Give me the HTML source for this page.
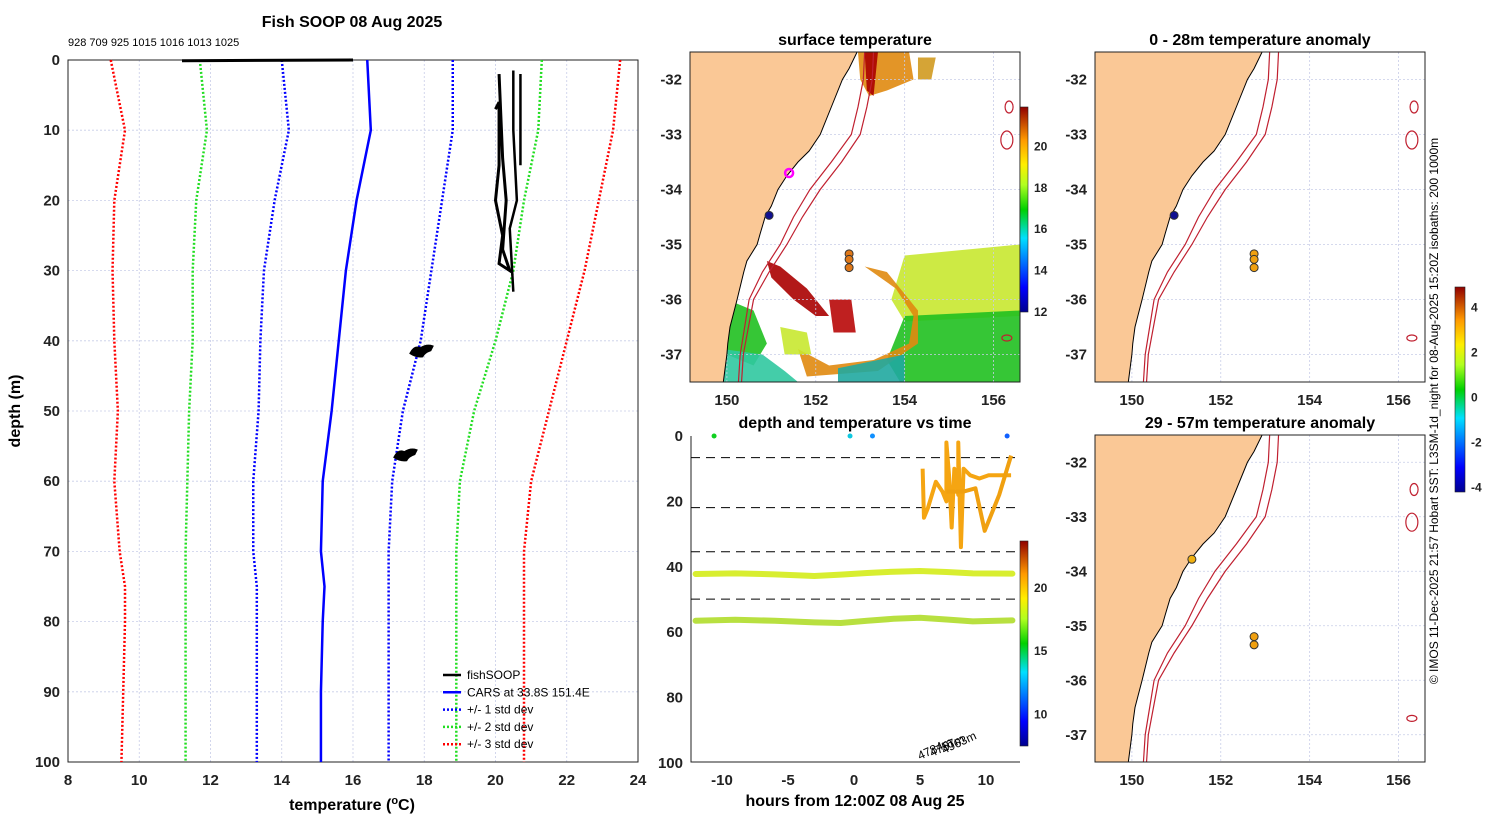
<!DOCTYPE html>
<html><head><meta charset="utf-8">
<style>
html,body{margin:0;padding:0;background:#fff;}
svg{display:block;font-family:"Liberation Sans","DejaVu Sans",sans-serif;}
.tk{font-size:15px;font-weight:bold;fill:#222;}
.tt{font-size:16px;font-weight:bold;fill:#000;}
</style></head>
<body>
<svg id="fig" width="1500" height="820" viewBox="0 0 1500 820">
<defs>
<linearGradient id="jet" x1="0" y1="1" x2="0" y2="0">
<stop offset="0" stop-color="#00008f"/><stop offset="0.12" stop-color="#0000ff"/><stop offset="0.36" stop-color="#00e0ff"/><stop offset="0.5" stop-color="#00d000"/><stop offset="0.62" stop-color="#b0ff20"/><stop offset="0.72" stop-color="#ffee00"/><stop offset="0.84" stop-color="#ff9900"/><stop offset="1" stop-color="#900000"/>
</linearGradient>
<clipPath id="c1"><rect x="690" y="52" width="330" height="330"/></clipPath>
<clipPath id="c2"><rect x="1095" y="52" width="330" height="330"/></clipPath>
<clipPath id="c3"><rect x="1095" y="435" width="330" height="327"/></clipPath>
</defs>
<text x="352" y="27" text-anchor="middle" class="tt">Fish SOOP 08 Aug 2025</text>
<text x="68" y="46" font-size="11" fill="#000">928 709 925 1015 1016 1013 1025</text>
<text x="855" y="45" text-anchor="middle" class="tt">surface temperature</text>
<text x="1260" y="45" text-anchor="middle" class="tt">0 - 28m temperature anomaly</text>
<text x="855" y="428" text-anchor="middle" class="tt">depth and temperature vs time</text>
<text x="1260" y="428" text-anchor="middle" class="tt">29 - 57m temperature anomaly</text>
<text x="352" y="810" text-anchor="middle" class="tt">temperature (<tspan font-size="11" dy="-6">o</tspan><tspan dy="6">C)</tspan></text>
<text transform="translate(20,411) rotate(-90)" text-anchor="middle" class="tt">depth (m)</text>
<text x="855" y="806" text-anchor="middle" class="tt">hours from 12:00Z 08 Aug 25</text>
<text transform="translate(1438,411) rotate(-90)" text-anchor="middle" font-size="12" fill="#000">© IMOS 11-Dec-2025 21:57 Hobart SST: L3SM-1d_night for 08-Aug-2025 15:20Z isobaths: 200  1000m</text>
<g id="g"></g>
</svg>
<script>
// ---------- left profile data ----------
const depths=[0,10,20,30,40,50,60,70,75,80,90,100];
const cars=[16.4,16.5,16.1,15.8,15.6,15.4,15.15,15.1,15.2,15.15,15.1,15.1];
const sd1lo=[14.0,14.2,13.8,13.5,13.4,13.35,13.2,13.2,13.3,13.3,13.3,13.3];
const sd1hi=[18.8,18.8,18.5,18.2,17.9,17.4,17.1,17.0,17.0,17.0,17.0,17.0];
const sd2lo=[11.7,11.9,11.6,11.5,11.5,11.4,11.35,11.3,11.3,11.3,11.3,11.3];
const sd2hi=[21.3,21.2,20.8,20.5,20.0,19.4,19.0,18.9,18.9,18.9,18.9,18.9];
const sd3lo=[9.2,9.6,9.3,9.25,9.3,9.4,9.3,9.45,9.6,9.6,9.55,9.5];
const sd3hi=[23.5,23.3,22.9,22.5,22.0,21.5,21.0,20.8,20.8,20.8,20.8,20.8];
const tempTicks=[8,10,12,14,16,18,20,22,24];
const depthTicks=[0,10,20,30,40,50,60,70,80,90,100];
const fishA=[[20.0,7],[20.1,6],[20.1,15],[20.0,20],[20.2,25],[20.1,29],[20.4,30],[20.2,27],[20.3,20],[20.2,14],[20.1,2]];
const fishB=[[20.5,1.5],[20.5,10],[20.6,20],[20.4,24],[20.5,33]];
const fishC=[[20.7,2],[20.7,15]];
const fishSurf=[[11.2,0.1],[16.0,0]];
const blob1=[17.95,41.5];
const blob2=[17.5,56.3];
// ---------- time panel data ----------
const hourTicks=[-10,-5,0,5,10];
const depthTicks2=[0,20,40,60,80,100];
const dashDepths=[6.6,21.9,35.4,49.9];
const band1h=[-12,-9,-6,-3,-1,1,3,5,7,9,12];
const band1d=[42.2,42.0,42.3,42.8,42.4,41.9,41.5,41.3,41.6,42.0,42.1];
const band2d=[56.5,56.2,56.5,57.0,57.2,56.5,55.9,55.6,56.1,56.7,56.4];
const trace1=[[5.2,10],[5.3,25],[5.6,22],[6.2,14],[6.7,17],[7.0,20],[7.0,2],[7.2,12],[7.4,28],[7.6,10],[7.9,18],[7.9,2],[8.1,34],[8.3,10],[8.8,12],[9.5,13],[10.2,12],[11.0,12],[11.9,12]];
const trace2=[[7.0,17],[8.3,17],[9.2,16],[9.9,29],[10.4,24],[11.0,18],[11.9,6]];
const topDotsH=[-10.6,-0.3,1.4,11.6];
const topDotsC=["#10d020","#10c8e0","#1090ff","#1060ff"];
const cb2Ticks=[10,15,20];
// ---------- map data ----------
const lonTicks=[150,152,154,156];
const latTicks=[-32,-33,-34,-35,-36,-37];
const coastLon=[152.93,152.75,152.6,152.35,152.1,151.85,151.6,151.35,151.15,151.0,150.86,150.75,150.68,150.45,150.38,150.23,150.07,150.02,150.0,149.92];
const coastLat=[-31.5,-31.8,-32.0,-32.5,-33.0,-33.3,-33.5,-33.75,-34.0,-34.3,-34.5,-34.8,-35.0,-35.3,-35.5,-36.0,-36.5,-36.8,-37.0,-37.5];
const iso1Lon=[153.1,153.07,152.95,152.8,152.35,151.87,151.5,151.2,150.8,150.5,150.3,150.26];
const iso2Lon=[153.3,153.27,153.15,153.0,152.58,152.1,151.7,151.35,150.95,150.6,150.37,150.33];
const isoLat=[-31.5,-32.0,-32.5,-33.0,-33.5,-34.0,-34.5,-35.0,-35.5,-36.0,-37.0,-37.5];
const cb1Ticks=[12,14,16,18,20];
const cb3Ticks=[-4,-2,0,2,4];

const G=document.getElementById('g');
const NS='http://www.w3.org/2000/svg';
function mk(tag,attrs,parent){const e=document.createElementNS(NS,tag);for(const k in attrs)e.setAttribute(k,attrs[k]);(parent||G).appendChild(e);return e;}

// left axes
const lx=t=>68+(t-8)*35.625, ly=d=>60+d*7.02;
tempTicks.forEach(t=>{
 const l=mk('line',{x1:lx(t),x2:lx(t),y1:60,y2:762,stroke:'#c8cde8','stroke-width':0.8,'stroke-dasharray':'2,2'});
 
 
 const tx=mk('text',{x:lx(t),y:785,'text-anchor':'middle',class:'tk'});tx.textContent=t;
 
 
});
depthTicks.forEach(d=>{
 const l=mk('line',{x1:68,x2:638,y1:ly(d),y2:ly(d),stroke:'#c8cde8','stroke-width':0.8,'stroke-dasharray':'2,2'});
 
 
 const tx=mk('text',{x:60,y:ly(d)+5,'text-anchor':'end',class:'tk'});tx.textContent=d;
 
 
});
const fr=mk('rect',{x:68,y:60,width:570,height:702,fill:'none',stroke:'#222','stroke-width':1});


function prof(arr,color,dash,w,name){
 const p=mk('polyline',{points:arr.map((t,i)=>lx(t)+','+ly(depths[i])).join(' '),fill:'none',stroke:color,'stroke-width':w,'stroke-dasharray':dash});
 
 
}
prof(sd3lo,'#ff0000','2,2',2.5,'std3-lower-line');prof(sd3hi,'#ff0000','2,2',2.5,'std3-upper-line');
prof(sd2lo,'#22dd22','2,2',2.5,'std2-lower-line');prof(sd2hi,'#22dd22','2,2',2.5,'std2-upper-line');
prof(sd1lo,'#0000ff','2,2',2.5,'std1-lower-line');prof(sd1hi,'#0000ff','2,2',2.5,'std1-upper-line');
prof(cars,'#0000ff','',2.5,'cars-mean-line');
function fline(arr,name,w){
 const p=mk('polyline',{points:arr.map(q=>lx(q[0])+','+ly(q[1])).join(' '),fill:'none',stroke:'#000','stroke-width':w});
 
 
}
fline(fishSurf,'fishsoop-surface-line',3);fline(fishA,'fishsoop-trace-a',3);fline(fishB,'fishsoop-trace-b',2.5);fline(fishC,'fishsoop-trace-c',2.5);
[blob1,blob2].forEach((b,i)=>{
 const cx=lx(b[0]),cy=ly(b[1]);
 const e=mk('path',{d:`M${cx-12},${cy+2} q4,-8 10,-5 q6,-4 12,-2 l-2,4 q-6,2 -8,6 q-6,1 -12,-3z`,fill:'#000',stroke:'#000','stroke-width':2});
 
 
});
// legend
const legItems=[['fishSOOP','#000',''],['CARS at 33.8S 151.4E','#0000ff',''],['+/- 1 std dev','#0000ff','2,2'],['+/- 2 std dev','#22dd22','2,2'],['+/- 3 std dev','#ff0000','2,2']];
legItems.forEach((it,i)=>{
 const y=675+i*17.3;
 const l=mk('line',{x1:443,x2:461,y1:y,y2:y,stroke:it[1],'stroke-width':2.5,'stroke-dasharray':it[2]});
 
 
 const t=mk('text',{x:467,y:y+4,'font-size':12,fill:'#000'});t.textContent=it[0];
 
 
});

// ---------- maps ----------
function map(ox,oy,h,clip,name,isSST){
 const px=lon=>ox+(lon-149.17)*44.44;
 const py=lat=>oy+(-31.5-lat)*(h/6);
 const g=mk('g',{'clip-path':'url(#'+clip+')'});
 
 
 const bg=mk('rect',{x:ox,y:oy,width:330,height:h,fill:'#fff'},g);
 
 
 if(isSST){
  const blobs=[
   ['#e08a10',[[152.95,-31.5],[154.1,-31.5],[154.2,-32.0],[153.6,-32.2],[153.2,-32.3],[153.0,-32.0]]],
   ['#aa0000',[[153.1,-31.5],[153.4,-31.5],[153.3,-32.3],[153.15,-32.2]]],
   ['#d09a20',[[154.3,-31.6],[154.7,-31.6],[154.6,-32.0],[154.3,-32.0]]],
   ['#c8e830',[[154.0,-35.2],[156.6,-35.0],[156.6,-36.3],[154.0,-36.4],[153.7,-36.0]]],
   ['#20c020',[[154.0,-36.3],[156.6,-36.2],[156.6,-37.5],[153.9,-37.5],[153.6,-37.1]]],
   ['#e08a10',[[153.1,-35.4],[153.8,-35.8],[154.2,-36.3],[154.1,-36.8],[153.3,-37.1],[152.3,-37.2],[151.6,-36.9],[151.8,-37.4],[153.4,-37.3],[154.3,-36.8],[154.3,-36.2],[153.6,-35.5]]],
   ['#aa0000',[[150.9,-35.3],[151.2,-35.4],[151.8,-35.8],[152.3,-36.3],[152.0,-36.3],[151.5,-36.0],[151.0,-35.6]]],
   ['#b80808',[[152.3,-36.0],[152.8,-36.0],[152.9,-36.6],[152.4,-36.6]]],
   ['#20c020',[[150.0,-36.0],[150.6,-36.2],[150.9,-36.8],[150.6,-37.2],[150.0,-37.0]]],
   ['#30c8a0',[[149.9,-36.9],[150.8,-37.0],[151.3,-37.3],[151.6,-37.5],[149.9,-37.5]]],
   ['#c8e830',[[151.2,-36.5],[151.8,-36.6],[151.9,-37.0],[151.3,-37.0]]],
   ['#20a8a0',[[152.5,-37.25],[154.0,-37.0],[154.0,-37.5],[152.5,-37.5]]]
  ];
  blobs.forEach(b=>{
   const p=mk('polygon',{points:b[1].map(q=>px(q[0])+','+py(q[1])).join(' '),fill:b[0],opacity:0.9},g);
   
   
  });
 }
 lonTicks.forEach(l=>{
  const gl=mk('line',{x1:px(l),x2:px(l),y1:oy,y2:oy+h,stroke:'#c8cde8','stroke-width':0.8,'stroke-dasharray':'2,2'},g);
  
  
 });
 latTicks.forEach(l=>{
  const gl=mk('line',{x1:ox,x2:ox+330,y1:py(l),y2:py(l),stroke:'#c8cde8','stroke-width':0.8,'stroke-dasharray':'2,2'},g);
  
  
 });
 const landPts=coastLon.map((l,i)=>px(l)+','+py(coastLat[i])).join(' ')+' '+ox+','+(oy+h)+' '+ox+','+oy;
 const land=mk('polygon',{points:landPts,fill:'#fac896',stroke:'#000','stroke-width':1},g);
 
 
 [iso1Lon,iso2Lon].forEach((arr,k)=>{
  const p=mk('polyline',{points:arr.map((l,i)=>px(l)+','+py(isoLat[i])).join(' '),fill:'none',stroke:'#c02030','stroke-width':1.2},g);
  
  
 });
 [[156.35,-32.5,4,6],[156.3,-33.1,6,9],[156.3,-36.7,5,3]].forEach(s=>{
  const e=mk('ellipse',{cx:px(s[0]),cy:py(s[1]),rx:s[2],ry:s[3],fill:'none',stroke:'#c02030','stroke-width':1.2},g);
  
  
 });
 const frm=mk('rect',{x:ox,y:oy,width:330,height:h,fill:'none',stroke:'#222','stroke-width':1});
 
 
 latTicks.forEach(l=>{
  const t=mk('text',{x:ox-8,y:py(l)+5,'text-anchor':'end',class:'tk'});t.textContent=l;
  
  
 });
 return {px,py};
}
const m1=map(690,52,330,'c1','sst-map',true);
const m2=map(1095,52,330,'c2','anomaly-map-top',false);
const m3=map(1095,435,327,'c3','anomaly-map-bottom',false);
[[690,m1],[1095,m2],[1095,m3]].forEach((a,k)=>{
 lonTicks.forEach(l=>{
  const t=mk('text',{x:a[1].px(l),y:k<2?405:785,'text-anchor':'middle',class:'tk'});t.textContent=l;
  
  
 });
});
// map markers
function dot(m,lon,lat,fill,name,ring){
 const c=mk('circle',{cx:m.px(lon),cy:m.py(lat),r:4,fill:ring?'none':fill,stroke:ring?fill:'#333','stroke-width':ring?2.5:1});
 
 
}
dot(m1,151.4,-33.7,'#ff00ff','cars-location-marker',true);
dot(m1,150.95,-34.47,'#101090','station-marker');
[-35.17,-35.27,-35.42].forEach(l=>dot(m1,152.75,l,'#e07818','station-marker'));
dot(m2,150.95,-34.47,'#101090','station-marker');
[-35.17,-35.27,-35.42].forEach(l=>dot(m2,152.75,l,'#f0a010','station-marker'));
dot(m3,151.35,-33.78,'#f0b010','station-marker');
[-35.2,-35.35].forEach(l=>dot(m3,152.75,l,'#f0a010','station-marker'));

// colorbars
function cbar(x,y,w,h,ticks,lo,hi,name){
 const r=mk('rect',{x:x,y:y,width:w,height:h,fill:'url(#jet)',stroke:'#222','stroke-width':0.6});
 
 
 ticks.forEach(t=>{
  const yy=y+h-(t-lo)/(hi-lo)*h;
  const tx=mk('text',{x:x+w+6,y:yy+4,'font-size':12,'font-weight':'bold',fill:'#222'});tx.textContent=t;
  
  
 });
}
cbar(1020,107,8,205,cb1Ticks,12,21.9,'sst-colorbar');
cbar(1020,541,8,205,cb2Ticks,7.5,23.7,'time-colorbar');
cbar(1455,287,10,205,cb3Ticks,-4.2,4.9,'anomaly-colorbar');

// ---------- time panel ----------
const hx=h=>854+h*13.2, hy=d=>436+d*3.27;
const ax=mk('polyline',{points:'691,436 691,762 1020,762',fill:'none',stroke:'#222','stroke-width':1});


hourTicks.forEach(h=>{
 const t=mk('text',{x:hx(h),y:785,'text-anchor':'middle',class:'tk'});t.textContent=h;
 
 
});
depthTicks2.forEach(d=>{
 const t=mk('text',{x:683,y:hy(d)+5,'text-anchor':'end',class:'tk'});t.textContent=d;
 
 
});
dashDepths.forEach(d=>{
 const l=mk('line',{x1:691,x2:1020,y1:hy(d),y2:hy(d),stroke:'#000','stroke-width':1,'stroke-dasharray':'9,6'});
 
 
});
[[band1d,'#d8ee30','band-42m'],[band2d,'#b8e040','band-56m']].forEach(b=>{
 const p=mk('polyline',{points:band1h.map((h,i)=>hx(h)+','+hy(b[0][i])).join(' '),fill:'none',stroke:b[1],'stroke-width':6,'stroke-linecap':'round'});
 
 
});
[trace1,trace2].forEach((tr,i)=>{
 const p=mk('polyline',{points:tr.map(q=>hx(q[0])+','+hy(q[1])).join(' '),fill:'none',stroke:i?'#f0a010':'#f5a512','stroke-width':4,'stroke-linejoin':'round'});
 
 
});
topDotsH.forEach((h,i)=>{
 const c=mk('circle',{cx:hx(h),cy:hy(0),r:2.5,fill:topDotsC[i]});
 
 
});
['4784m','4757m','4963m'].forEach((s,i)=>{
 const x=920+i*12, y=760-i*3;
 const t=mk('text',{x:x,y:y,'font-size':12,fill:'#000',transform:'rotate(-25 '+x+' '+y+')'});t.textContent=s;
 
 
});
</script>
</body></html>
